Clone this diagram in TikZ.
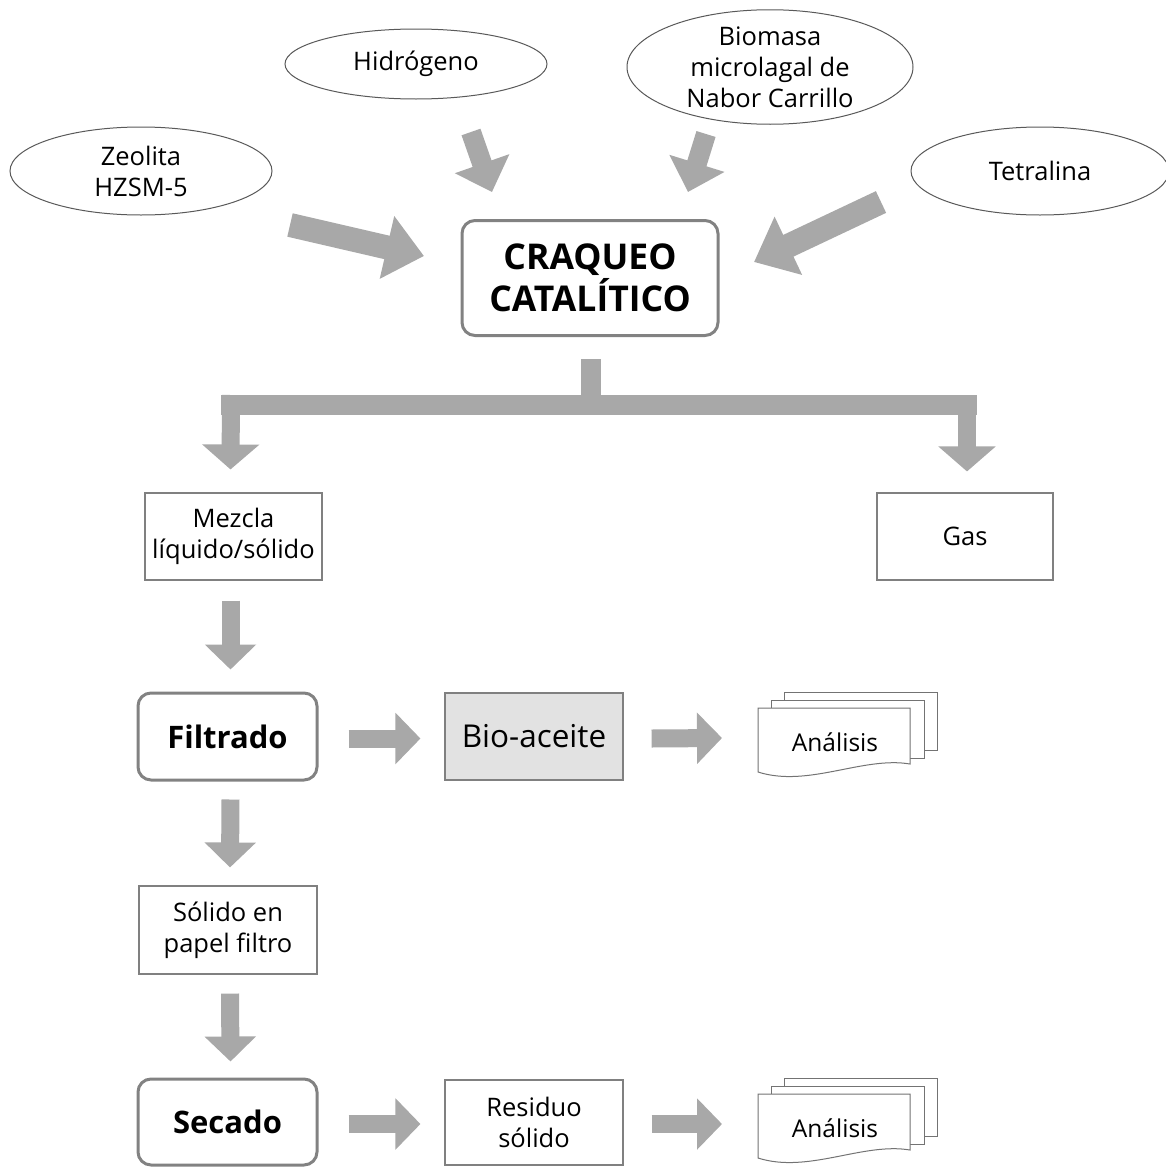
\documentclass[tikz,border=0pt]{standalone}
\usepackage{fontspec}
\setmainfont{Open Sans}
\usetikzlibrary{arrows.meta,calc,shapes.geometric}
\newcommand{\fsz}[2]{\fontsize{#1}{#2}\selectfont}
\definecolor{arrgray}{RGB}{168,168,168}
\definecolor{boxgray}{RGB}{130,130,130}
\definecolor{biofill}{RGB}{226,226,226}
\tikzset{
  ell/.style={ellipse, draw=black!65, line width=1, fill=white, align=center, inner sep=0, font=\fsz{25.5}{31}},
  rbox/.style={draw=boxgray, line width=3, rounded corners=13, fill=white, align=center, inner sep=0},
  pbox/.style={draw=black!50, line width=1.1, fill=white, align=center, inner sep=0, font=\fsz{25.5}{31}},
  barr/.style={draw=arrgray, line width=18, -{Triangle[width=50,length=25]}},
  bigarr/.style={draw=arrgray, line width=24, -{Triangle[width=62,length=38]}},
  docsheet/.style={draw=black!55, line width=1, fill=white},
}
\newcommand{\docstack}[1]{%
  \begin{scope}[shift={#1}]
    \draw[docsheet] (26,-16) rectangle (179,42);
    \draw[docsheet] (13,-8) rectangle (166,50);
    \draw[docsheet] (0,0) -- (152,0) -- (152,56) .. controls (105,48) and (50,80) .. (0,64) -- cycle;
  \end{scope}}
\begin{document}
\begin{tikzpicture}[x=1pt,y=-1pt]
\useasboundingbox (0,0) rectangle (1166,1167);
% input ellipses
\node[ell, minimum width=262, minimum height=88] (zeo) at (141,171) {Zeolita\\HZSM-5};
\node[ell, minimum width=262, minimum height=70] (hid) at (416,64) {Hidrógeno};
\node[ell, minimum width=286, minimum height=112] (biom) at (770,67) {Biomasa\\microlagal de\\Nabor Carrillo};
\node[ell, minimum width=258, minimum height=88] (tet) at (1040,171) {Tetralina};
% main process
\node[rbox, minimum width=256, minimum height=115, font=\bfseries\fsz{35.5}{42}] (crack) at (590,278) {CRAQUEO\\CATALÍTICO};
% input arrows
\coordinate (zt) at (290,225); \coordinate (zh) at (424,256);
\coordinate (ht) at (471,132); \coordinate (hh) at (492,192);
\coordinate (bt) at (706,134); \coordinate (bh) at (688,192);
\coordinate (tt) at (881,202); \coordinate (th) at (754,262);
\draw[bigarr] (zt) -- (zh);
\draw[barr, line width=20, -{Triangle[width=56,length=30]}] (ht) -- (hh);
\draw[barr, line width=20, -{Triangle[width=56,length=30]}] (bt) -- (bh);
\draw[bigarr] (tt) -- (th);
% outputs
\node[pbox, minimum width=177, minimum height=87] (mez) at (233.5,536.5) {Mezcla\\líquido/sólido};
\node[pbox, minimum width=176, minimum height=87] (gas) at (965,536.5) {Gas};
% branch connector
\coordinate (stemtop) at ($(crack.south)+(1,22)$);
\coordinate (bl) at (221,405);
\coordinate (br) at (977,405);
\coordinate (dl) at (231,395);
\coordinate (dr) at (967,395);
\draw[draw=arrgray, line width=20] (stemtop) -- (stemtop |- bl);
\draw[draw=arrgray, line width=20] (bl) -- (br);
\draw[barr, -{Triangle[width=56,length=25]}] (dl) -- ($(mez.north)+(-3,-23)$);
\draw[barr, -{Triangle[width=56,length=25]}] (dr) -- ($(gas.north)+(2,-21)$);
% filtrado row
\node[rbox, minimum width=179, minimum height=87, font=\bfseries\fsz{31}{36}] (filt) at (227.5,736.5) {Filtrado};
\node[pbox, fill=biofill, minimum width=178, minimum height=87, font=\fsz{31.5}{36}] (bioa) at (534,736.5) {Bio-aceite};
\docstack{(758,708)}
\node[font=\fsz{24.5}{30}] (an1) at (835,742) {Análisis};
\coordinate (an1w) at (758,738);
\draw[barr] ($(mez.south)+(-3,20)$) -- ($(filt.north)+(3,-22)$);
\draw[barr] ($(filt.east)+(30,2)$) -- ($(bioa.west)+(-24,2)$);
\draw[barr] ($(bioa.east)+(28,2)$) -- ($(an1w)+(-36,0)$);
% solid branch
\node[pbox, minimum width=178, minimum height=88] (sol) at (228,930) {Sólido en\\papel filtro};
\node[rbox, minimum width=179, minimum height=86, font=\bfseries\fsz{31}{36}] (sec) at (227.5,1122) {Secado};
\node[pbox, minimum width=178, minimum height=85] (res) at (534,1122.5) {Residuo\\sólido};
\docstack{(758,1094)}
\node[font=\fsz{24.5}{30}] (an2) at (835,1128) {Análisis};
\coordinate (an2w) at (758,1124);
\draw[barr] ($(filt.south)+(3,18)$) -- ($(sol.north)+(2,-18)$);
\draw[barr] ($(sol.south)+(2,19)$) -- ($(sec.north)+(3,-16)$);
\draw[barr] ($(sec.east)+(30,2)$) -- ($(res.west)+(-24,1.5)$);
\draw[barr] ($(res.east)+(28,1.5)$) -- ($(an2w)+(-36,0)$);
\end{tikzpicture}
\end{document}
